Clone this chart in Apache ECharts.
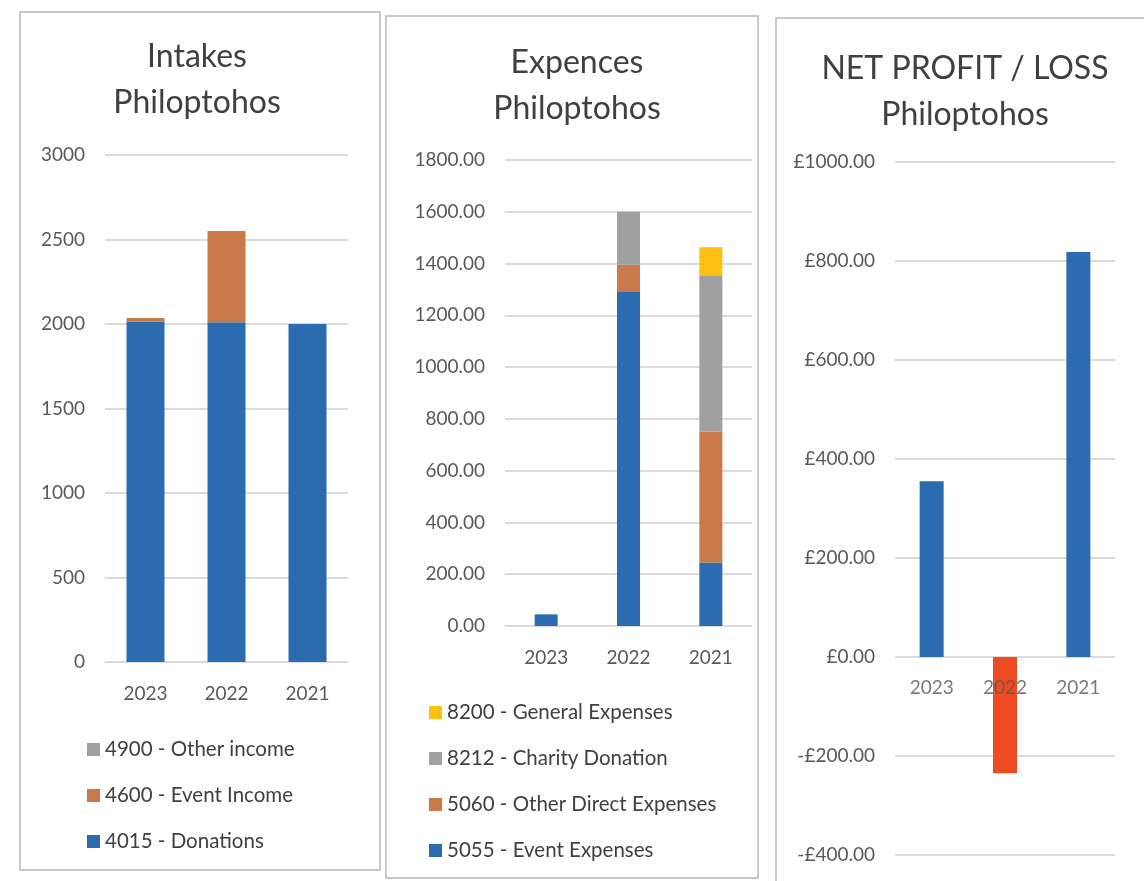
<!DOCTYPE html>
<html><head><meta charset="utf-8">
<script src="https://cdn.jsdelivr.net/npm/echarts@6/dist/echarts.min.js"></script>
<style>html,body{margin:0;padding:0;background:#fff}#c{width:1144px;height:881px}</style>
</head><body><div id="c"></div>
<script>
const years = ['2023','2022','2021'];
// Intakes
const donations4015 = [2015, 2010, 2000];
const eventIncome4600 = [20, 540, 0];
const otherIncome4900 = [0, 0, 0];
// Expences
const eventExp5055 = [45, 1290, 245];
const otherDirect5060 = [0, 105, 505];
const charity8212 = [0, 205, 605];
const general8200 = [0, 0, 108];
// Net profit / loss
const netProfit = [355, -235, 818];

const BLUE='#2B6CB0', ORANGE='#C97A48', GRAY='#A0A0A0', YELLOW='#FFC012', RED='#EE4B22';
const FONT='Lato';
const txt='#404040', axTxt='#595959', gridC='#cfcfcf';

function yAx(i, min, max, interval, fmt){
  return {gridIndex:i, type:'value', min, max, interval,
    axisLine:{show:false}, axisTick:{show:false},
    splitLine:{lineStyle:{color:gridC, width:1.5}},
    axisLabel:{color:axTxt, fontFamily:FONT, fontSize:19, margin:20, formatter:fmt}};
}
function xAx(i, margin, showLabel){
  return {gridIndex:i, type:'category', data:years,
    axisLine:{show:false}, axisTick:{show:false},
    axisLabel:{show:showLabel, color:axTxt, fontFamily:FONT, fontSize:19, margin:margin}};
}
const chart = echarts.init(document.getElementById('c'));
chart.setOption({
  animation:false,
  textStyle:{fontFamily:FONT},
  grid:[
    {left:105, top:155, width:243, height:507, outerBoundsMode:'none'},
    {left:505, top:160, width:247, height:466, outerBoundsMode:'none'},
    {left:895, top:162, width:220, height:693, outerBoundsMode:'none'}
  ],
  xAxis:[xAx(0,22,true), xAx(1,22,true), xAx(2,21,false)],
  yAxis:[
    yAx(0, 0, 3000, 500, v=>String(v)),
    yAx(1, 0, 1800, 200, v=>v.toFixed(2)),
    yAx(2, -400, 1000, 200, v=>(v<0?'-£':'£')+Math.abs(v).toFixed(2))
  ],
  legend:[
    {orient:'vertical', left:82, top:734, itemWidth:13, itemHeight:13, icon:'rect', itemGap:25,
     textStyle:{color:txt, fontSize:20.5, fontFamily:FONT, lineHeight:20},
     data:['4900 - Other income','4600 - Event Income','4015 - Donations']},
    {orient:'vertical', left:424, top:697, itemWidth:13, itemHeight:13, icon:'rect', itemGap:25,
     textStyle:{color:txt, fontSize:20.5, fontFamily:FONT, lineHeight:20},
     data:['8200 - General Expenses','8212 - Charity Donation','5060 - Other Direct Expenses','5055 - Event Expenses']}
  ],
  series:[
    {name:'4015 - Donations', type:'bar', stack:'a', xAxisIndex:0, yAxisIndex:0, barWidth:38, data:donations4015, itemStyle:{color:BLUE}},
    {name:'4600 - Event Income', type:'bar', stack:'a', xAxisIndex:0, yAxisIndex:0, barWidth:38, data:eventIncome4600, itemStyle:{color:ORANGE}},
    {name:'4900 - Other income', type:'bar', stack:'a', xAxisIndex:0, yAxisIndex:0, barWidth:38, data:otherIncome4900, itemStyle:{color:GRAY}},
    {name:'5055 - Event Expenses', type:'bar', stack:'b', xAxisIndex:1, yAxisIndex:1, barWidth:23, data:eventExp5055, itemStyle:{color:BLUE}},
    {name:'5060 - Other Direct Expenses', type:'bar', stack:'b', xAxisIndex:1, yAxisIndex:1, barWidth:23, data:otherDirect5060, itemStyle:{color:ORANGE}},
    {name:'8212 - Charity Donation', type:'bar', stack:'b', xAxisIndex:1, yAxisIndex:1, barWidth:23, data:charity8212, itemStyle:{color:GRAY}},
    {name:'8200 - General Expenses', type:'bar', stack:'b', xAxisIndex:1, yAxisIndex:1, barWidth:23, data:general8200, itemStyle:{color:YELLOW}},
    {name:'Net', type:'bar', xAxisIndex:2, yAxisIndex:2, barWidth:24, z:1,
     data:netProfit.map(v=>({value:v, itemStyle:{color: v<0?RED:BLUE}}))},
    // category labels sitting on the zero line of the net profit panel
    {name:'yearLabels', type:'scatter', xAxisIndex:2, yAxisIndex:2, symbolSize:0, z:5, silent:true,
     data:years.map(y=>[y,0]),
     label:{show:true, position:'bottom', distance:21, color:axTxt, fontFamily:FONT, fontSize:19,
            formatter:p=>p.data[0]}}
  ],
  graphic:[
    {type:'rect', shape:{x:20,y:12,width:360,height:858}, style:{fill:'none', stroke:'#b8b8b8', lineWidth:1.5}, z:-1},
    {type:'rect', shape:{x:386,y:16,width:372,height:862}, style:{fill:'none', stroke:'#b8b8b8', lineWidth:1.5}, z:-1},
    {type:'rect', shape:{x:776,y:18,width:380,height:880}, style:{fill:'none', stroke:'#b8b8b8', lineWidth:1.5}, z:-1},
    {type:'text', x:197, y:34, style:{text:'Intakes\nPhiloptohos', textAlign:'center', fill:txt, fontSize:32, fontFamily:FONT, lineHeight:46}},
    {type:'text', x:577, y:40, style:{text:'Expences\nPhiloptohos', textAlign:'center', fill:txt, fontSize:32, fontFamily:FONT, lineHeight:46}},
    {type:'text', x:965, y:46, style:{text:'NET PROFIT / LOSS\nPhiloptohos', textAlign:'center', fill:txt, fontSize:32, fontFamily:FONT, lineHeight:46}}
  ]
});
</script></body></html>
